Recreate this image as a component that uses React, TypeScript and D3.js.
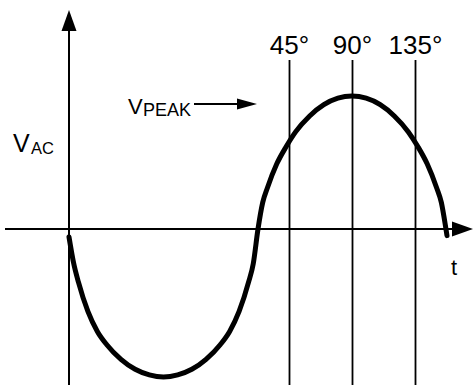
import React from "react";
import * as d3 from "d3";

// phase of the drawn wave (degrees) and its voltage relative to the t axis
const wavePhase = [
  0, 4.5, 9, 18, 27, 36, 49.5, 63, 76.5, 90, 103.5, 117, 130.5, 144, 153, 162, 171, 175.5,
  180, 184.5, 189, 197.9, 206.9, 215.8, 229.2, 242.7, 256.1, 269.5,
  283, 296.4, 309.8, 323.2, 332.2, 341.1, 350.1, 354.6, 359, 360,
];
const waveVolts = [
  -0.06, -0.26, -0.4, -0.62, -0.77, -0.87, -0.98, -1.055, -1.097, -1.113, -1.097, -1.055, -0.98, -0.87, -0.77, -0.62, -0.4, -0.26,
  0, 0.2, 0.31, 0.49, 0.62, 0.73, 0.85, 0.935, 0.984, 1,
  0.984, 0.935, 0.85, 0.73, 0.62, 0.49, 0.31, 0.2, 0, -0.05,
];

// marker lines (phase position on the wave) and their labels
const markerPhase = [210, 270, 330];
const markerLabels = ["45°", "90°", "135°"];

const W = 473;
const H = 385;
const FONT = "'Liberation Sans', Arial, Helvetica, sans-serif";

const App = () => {
  const x = d3.scaleLinear().domain([0, 360]).range([69, 447]);
  const y = d3.scaleLinear().domain([-1, 1]).range([362, 96]);

  const points = wavePhase.map((p, i) => ({ p, v: waveVolts[i] }));
  const line = d3
    .line<{ p: number; v: number }>()
    .x((d) => x(d.p))
    .y((d) => y(d.v))
    .curve(d3.curveMonotoneX);

  const x0 = x(0);
  const y0 = y(0);
  const arrowLen = 21;
  const arrowHalf = 7.5;

  // V_PEAK arrow
  const pkY = 104;
  const pkX1 = 194;
  const pkX2 = 257;

  return (
    <svg width={W} height={H} style={{ position: "absolute", left: 0, top: 0 }} fontFamily={FONT}>
      <rect width={W} height={H} fill="#fff" />

      {/* vertical axis */}
      <line x1={x0} x2={x0} y1={H} y2={10 + arrowLen - 2} stroke="#000" strokeWidth={2} />
      <path d={`M${x0},10 L${x0 - arrowHalf},${10 + arrowLen} L${x0 + arrowHalf},${10 + arrowLen} Z`} fill="#000" />

      {/* horizontal axis */}
      <line x1={5} x2={473 - arrowLen + 2} y1={y0} y2={y0} stroke="#000" strokeWidth={2} />
      <path d={`M473,${y0} L${473 - arrowLen},${y0 - arrowHalf} L${473 - arrowLen},${y0 + arrowHalf} Z`} fill="#000" />

      {/* marker lines */}
      {markerPhase.map((p, i) => (
        <g key={i}>
          <line x1={x(p)} x2={x(p)} y1={60} y2={H} stroke="#000" strokeWidth={1.8} />
          <text x={x(p)} y={54} textAnchor="middle" fontSize={26} fill="#000">
            {markerLabels[i]}
          </text>
        </g>
      ))}

      {/* wave */}
      <path d={line(points) ?? ""} fill="none" stroke="#000" strokeWidth={5} strokeLinecap="round" strokeLinejoin="round" />

      {/* labels */}
      <text x={13} y={152} fontSize={25} fill="#000">V</text>
      <text x={31} y={154} fontSize={16.5} fill="#000">AC</text>

      <text x={128} y={114} fontSize={22} fill="#000">V</text>
      <text x={143} y={116} fontSize={18} fill="#000">PEAK</text>
      <line x1={pkX1} x2={pkX2 - 18} y1={pkY} y2={pkY} stroke="#000" strokeWidth={1.8} />
      <path d={`M${pkX2},${pkY} L${pkX2 - 20},${pkY - 5.5} L${pkX2 - 20},${pkY + 5.5} Z`} fill="#000" />

      <text x={454} y={275} textAnchor="middle" fontSize={22} fill="#000">t</text>
    </svg>
  );
};

export default App;
